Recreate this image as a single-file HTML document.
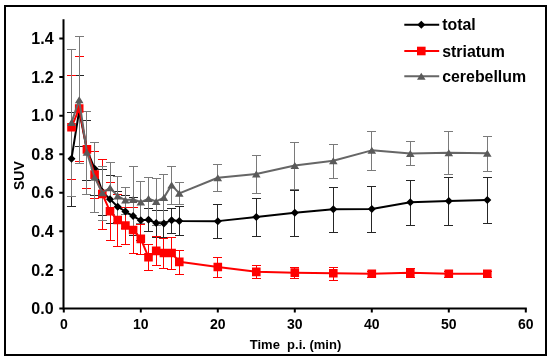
<!DOCTYPE html>
<html><head><meta charset="utf-8"><style>
html,body{margin:0;padding:0;background:#fff;}
body{width:550px;height:360px;position:relative;overflow:hidden;}
.frame{position:absolute;left:4px;top:5px;width:543px;height:351px;border:2px solid #000;box-sizing:border-box;}
svg{position:absolute;left:0;top:0;}
.wrap{position:absolute;left:0;top:0;width:550px;height:360px;filter:blur(0.4px);}
text{font-family:"Liberation Sans",sans-serif;font-weight:bold;fill:#000;}
.yl{font-size:16px;}
.xl{font-size:14px;}
.tt{font-size:13px;}
.tt2{font-size:14px;}
.lg{font-size:15.9px;}
</style></head><body>
<div class="wrap"><div class="frame"></div>
<svg width="550" height="360" viewBox="0 0 550 360">
<path d="M63.5 19.3V309.5M62.5 308.5H526.8" stroke="#000" stroke-width="2" fill="none"/><path d="M59.3 308.50H63.5M59.3 269.93H63.5M59.3 231.36H63.5M59.3 192.78H63.5M59.3 154.21H63.5M59.3 115.64H63.5M59.3 77.07H63.5M59.3 38.50H63.5M63.80 308.5V312.6M140.80 308.5V312.6M217.80 308.5V312.6M294.80 308.5V312.6M371.80 308.5V312.6M448.80 308.5V312.6M525.80 308.5V312.6" stroke="#000" stroke-width="2" fill="none"/>
<g stroke="#262626" stroke-width="1" fill="none" shape-rendering="crispEdges"><path d="M71.50 112.50V206.50M67.20 112.50H75.80M67.20 206.50H75.80"/><path d="M79.50 75.50V146.50M75.20 75.50H83.80M75.20 146.50H83.80"/><path d="M86.50 120.50V180.50M82.20 120.50H90.80M82.20 180.50H90.80"/><path d="M94.50 142.50V195.50M90.20 142.50H98.80M90.20 195.50H98.80"/><path d="M102.50 169.50V215.50M98.20 169.50H106.80M98.20 215.50H106.80"/><path d="M110.50 175.50V223.50M106.20 175.50H114.80M106.20 223.50H114.80"/><path d="M117.50 191.50V222.50M113.20 191.50H121.80M113.20 222.50H121.80"/><path d="M125.50 195.50V228.50M121.20 195.50H129.80M121.20 228.50H129.80"/><path d="M133.50 197.50V235.50M129.20 197.50H137.80M129.20 235.50H137.80"/><path d="M140.50 201.50V240.50M136.20 201.50H144.80M136.20 240.50H144.80"/><path d="M148.50 208.50V231.50M144.20 208.50H152.80M144.20 231.50H152.80"/><path d="M156.50 210.50V237.50M152.20 210.50H160.80M152.20 237.50H160.80"/><path d="M163.50 210.50V237.50M159.20 210.50H167.80M159.20 237.50H167.80"/><path d="M171.50 208.50V233.50M167.20 208.50H175.80M167.20 233.50H175.80"/><path d="M179.50 206.50V235.50M175.20 206.50H183.80M175.20 235.50H183.80"/><path d="M217.50 204.50V238.50M213.20 204.50H221.80M213.20 238.50H221.80"/><path d="M256.50 198.50V236.50M252.20 198.50H260.80M252.20 236.50H260.80"/><path d="M294.50 190.50V236.50M290.20 190.50H298.80M290.20 236.50H298.80"/><path d="M333.50 187.50V232.50M329.20 187.50H337.80M329.20 232.50H337.80"/><path d="M371.50 186.50V232.50M367.20 186.50H375.80M367.20 232.50H375.80"/><path d="M410.50 180.50V225.50M406.20 180.50H414.80M406.20 225.50H414.80"/><path d="M448.50 177.50V225.50M444.20 177.50H452.80M444.20 225.50H452.80"/><path d="M487.50 177.50V223.50M483.20 177.50H491.80M483.20 223.50H491.80"/></g><g stroke="#ff0000" stroke-width="1" fill="none" shape-rendering="crispEdges"><path d="M71.50 75.50V179.50M67.20 75.50H75.80M67.20 179.50H75.80"/><path d="M79.50 56.50V161.50M75.20 56.50H83.80M75.20 161.50H83.80"/><path d="M86.50 111.50V188.50M82.20 111.50H90.80M82.20 188.50H90.80"/><path d="M94.50 151.50V198.50M90.20 151.50H98.80M90.20 198.50H98.80"/><path d="M102.50 159.50V229.50M98.20 159.50H106.80M98.20 229.50H106.80"/><path d="M110.50 182.50V240.50M106.20 182.50H114.80M106.20 240.50H114.80"/><path d="M117.50 194.50V246.50M113.20 194.50H121.80M113.20 246.50H121.80"/><path d="M125.50 207.50V244.50M121.20 207.50H129.80M121.20 244.50H129.80"/><path d="M133.50 207.50V253.50M129.20 207.50H137.80M129.20 253.50H137.80"/><path d="M140.50 224.50V254.50M136.20 224.50H144.80M136.20 254.50H144.80"/><path d="M148.50 244.50V270.50M144.20 244.50H152.80M144.20 270.50H152.80"/><path d="M156.50 236.50V265.50M152.20 236.50H160.80M152.20 265.50H160.80"/><path d="M163.50 238.50V268.50M159.20 238.50H167.80M159.20 268.50H167.80"/><path d="M171.50 237.50V269.50M167.20 237.50H175.80M167.20 269.50H175.80"/><path d="M179.50 250.50V274.50M175.20 250.50H183.80M175.20 274.50H183.80"/><path d="M217.50 257.50V277.50M213.20 257.50H221.80M213.20 277.50H221.80"/><path d="M256.50 265.50V278.50M252.20 265.50H260.80M252.20 278.50H260.80"/><path d="M294.50 267.50V278.50M290.20 267.50H298.80M290.20 278.50H298.80"/><path d="M333.50 267.50V280.50M329.20 267.50H337.80M329.20 280.50H337.80"/><path d="M371.50 271.50V277.50M367.20 271.50H375.80M367.20 277.50H375.80"/><path d="M410.50 268.50V277.50M406.20 268.50H414.80M406.20 277.50H414.80"/><path d="M448.50 271.50V277.50M444.20 271.50H452.80M444.20 277.50H452.80"/><path d="M487.50 271.50V277.50M483.20 271.50H491.80M483.20 277.50H491.80"/></g><g stroke="#7a7a7a" stroke-width="1" fill="none" shape-rendering="crispEdges"><path d="M71.50 49.50V196.50M67.20 49.50H75.80M67.20 196.50H75.80"/><path d="M79.50 36.50V163.50M75.20 36.50H83.80M75.20 163.50H83.80"/><path d="M86.50 111.50V194.50M82.20 111.50H90.80M82.20 194.50H90.80"/><path d="M94.50 142.50V212.50M90.20 142.50H98.80M90.20 212.50H98.80"/><path d="M102.50 166.50V220.50M98.20 166.50H106.80M98.20 220.50H106.80"/><path d="M110.50 162.50V214.50M106.20 162.50H114.80M106.20 214.50H114.80"/><path d="M117.50 176.50V216.50M113.20 176.50H121.80M113.20 216.50H121.80"/><path d="M125.50 187.50V214.50M121.20 187.50H129.80M121.20 214.50H129.80"/><path d="M133.50 166.50V233.50M129.20 166.50H137.80M129.20 233.50H137.80"/><path d="M140.50 181.50V223.50M136.20 181.50H144.80M136.20 223.50H144.80"/><path d="M148.50 177.50V220.50M144.20 177.50H152.80M144.20 220.50H152.80"/><path d="M156.50 178.50V225.50M152.20 178.50H160.80M152.20 225.50H160.80"/><path d="M163.50 174.50V221.50M159.20 174.50H167.80M159.20 221.50H167.80"/><path d="M171.50 166.50V204.50M167.20 166.50H175.80M167.20 204.50H175.80"/><path d="M179.50 182.50V204.50M175.20 182.50H183.80M175.20 204.50H183.80"/><path d="M217.50 164.50V191.50M213.20 164.50H221.80M213.20 191.50H221.80"/><path d="M256.50 155.50V193.50M252.20 155.50H260.80M252.20 193.50H260.80"/><path d="M294.50 142.50V189.50M290.20 142.50H298.80M290.20 189.50H298.80"/><path d="M333.50 144.50V178.50M329.20 144.50H337.80M329.20 178.50H337.80"/><path d="M371.50 131.50V170.50M367.20 131.50H375.80M367.20 170.50H375.80"/><path d="M410.50 141.50V165.50M406.20 141.50H414.80M406.20 165.50H414.80"/><path d="M448.50 131.50V174.50M444.20 131.50H452.80M444.20 174.50H452.80"/><path d="M487.50 136.50V171.50M483.20 136.50H491.80M483.20 171.50H491.80"/></g><polyline points="71.50,158.65 79.20,110.63 86.90,149.97 94.60,168.68 102.30,191.82 110.00,199.15 117.70,206.67 125.40,211.49 133.10,216.12 140.80,220.36 148.50,219.78 156.20,223.06 163.90,223.45 171.60,220.17 179.30,220.94 217.80,221.13 256.30,217.08 294.80,212.84 333.30,209.37 371.80,208.98 410.30,202.23 448.80,201.08 487.30,199.92" fill="none" stroke="#000" stroke-width="2" stroke-linejoin="round"/><path d="M71.50 154.65L75.50 158.65L71.50 162.65L67.50 158.65ZM79.20 106.63L83.20 110.63L79.20 114.63L75.20 110.63ZM86.90 145.97L90.90 149.97L86.90 153.97L82.90 149.97ZM94.60 164.68L98.60 168.68L94.60 172.68L90.60 168.68ZM102.30 187.82L106.30 191.82L102.30 195.82L98.30 191.82ZM110.00 195.15L114.00 199.15L110.00 203.15L106.00 199.15ZM117.70 202.67L121.70 206.67L117.70 210.67L113.70 206.67ZM125.40 207.49L129.40 211.49L125.40 215.49L121.40 211.49ZM133.10 212.12L137.10 216.12L133.10 220.12L129.10 216.12ZM140.80 216.36L144.80 220.36L140.80 224.36L136.80 220.36ZM148.50 215.78L152.50 219.78L148.50 223.78L144.50 219.78ZM156.20 219.06L160.20 223.06L156.20 227.06L152.20 223.06ZM163.90 219.45L167.90 223.45L163.90 227.45L159.90 223.45ZM171.60 216.17L175.60 220.17L171.60 224.17L167.60 220.17ZM179.30 216.94L183.30 220.94L179.30 224.94L175.30 220.94ZM217.80 217.13L221.80 221.13L217.80 225.13L213.80 221.13ZM256.30 213.08L260.30 217.08L256.30 221.08L252.30 217.08ZM294.80 208.84L298.80 212.84L294.80 216.84L290.80 212.84ZM333.30 205.37L337.30 209.37L333.30 213.37L329.30 209.37ZM371.80 204.98L375.80 208.98L371.80 212.98L367.80 208.98ZM410.30 198.23L414.30 202.23L410.30 206.23L406.30 202.23ZM448.80 197.08L452.80 201.08L448.80 205.08L444.80 201.08ZM487.30 195.92L491.30 199.92L487.30 203.92L483.30 199.92Z" fill="#000"/><polyline points="71.50,127.21 79.20,108.50 86.90,149.39 94.60,174.66 102.30,193.94 110.00,211.30 117.70,219.98 125.40,225.57 133.10,230.01 140.80,238.88 148.50,257.20 156.20,250.83 163.90,252.96 171.60,252.96 179.30,261.83 217.80,267.04 256.30,271.86 294.80,272.63 333.30,273.21 371.80,273.79 410.30,272.63 448.80,273.79 487.30,273.79" fill="none" stroke="#ff0000" stroke-width="2" stroke-linejoin="round"/><path d="M67.20 122.91h8.60v8.60h-8.60ZM74.90 104.20h8.60v8.60h-8.60ZM82.60 145.09h8.60v8.60h-8.60ZM90.30 170.36h8.60v8.60h-8.60ZM98.00 189.64h8.60v8.60h-8.60ZM105.70 207.00h8.60v8.60h-8.60ZM113.40 215.68h8.60v8.60h-8.60ZM121.10 221.27h8.60v8.60h-8.60ZM128.80 225.71h8.60v8.60h-8.60ZM136.50 234.58h8.60v8.60h-8.60ZM144.20 252.90h8.60v8.60h-8.60ZM151.90 246.53h8.60v8.60h-8.60ZM159.60 248.66h8.60v8.60h-8.60ZM167.30 248.66h8.60v8.60h-8.60ZM175.00 257.53h8.60v8.60h-8.60ZM213.50 262.74h8.60v8.60h-8.60ZM252.00 267.56h8.60v8.60h-8.60ZM290.50 268.33h8.60v8.60h-8.60ZM329.00 268.91h8.60v8.60h-8.60ZM367.50 269.49h8.60v8.60h-8.60ZM406.00 268.33h8.60v8.60h-8.60ZM444.50 269.49h8.60v8.60h-8.60ZM483.00 269.49h8.60v8.60h-8.60Z" fill="#ff0000"/><polyline points="71.50,122.58 79.20,99.83 86.90,152.28 94.60,177.36 102.30,192.78 110.00,187.77 117.70,196.06 125.40,200.11 133.10,199.53 140.80,202.04 148.50,198.57 156.20,201.46 163.90,197.61 171.60,185.07 179.30,193.36 217.80,177.74 256.30,174.08 294.80,165.59 333.30,160.77 371.80,150.35 410.30,153.44 448.80,152.67 487.30,153.25" fill="none" stroke="#666666" stroke-width="2" stroke-linejoin="round"/><path d="M71.50 119.08L75.80 126.08L67.20 126.08ZM79.20 96.33L83.50 103.33L74.90 103.33ZM86.90 148.78L91.20 155.78L82.60 155.78ZM94.60 173.86L98.90 180.86L90.30 180.86ZM102.30 189.28L106.60 196.28L98.00 196.28ZM110.00 184.27L114.30 191.27L105.70 191.27ZM117.70 192.56L122.00 199.56L113.40 199.56ZM125.40 196.61L129.70 203.61L121.10 203.61ZM133.10 196.03L137.40 203.03L128.80 203.03ZM140.80 198.54L145.10 205.54L136.50 205.54ZM148.50 195.07L152.80 202.07L144.20 202.07ZM156.20 197.96L160.50 204.96L151.90 204.96ZM163.90 194.11L168.20 201.11L159.60 201.11ZM171.60 181.57L175.90 188.57L167.30 188.57ZM179.30 189.86L183.60 196.86L175.00 196.86ZM217.80 174.24L222.10 181.24L213.50 181.24ZM256.30 170.58L260.60 177.58L252.00 177.58ZM294.80 162.09L299.10 169.09L290.50 169.09ZM333.30 157.27L337.60 164.27L329.00 164.27ZM371.80 146.85L376.10 153.85L367.50 153.85ZM410.30 149.94L414.60 156.94L406.00 156.94ZM448.80 149.17L453.10 156.17L444.50 156.17ZM487.30 149.75L491.60 156.75L483.00 156.75Z" fill="#5a5a5a"/>
<text x="53.6" y="314.20" text-anchor="end" class="yl">0.0</text><text x="53.6" y="275.63" text-anchor="end" class="yl">0.2</text><text x="53.6" y="237.06" text-anchor="end" class="yl">0.4</text><text x="53.6" y="198.48" text-anchor="end" class="yl">0.6</text><text x="53.6" y="159.91" text-anchor="end" class="yl">0.8</text><text x="53.6" y="121.34" text-anchor="end" class="yl">1.0</text><text x="53.6" y="82.77" text-anchor="end" class="yl">1.2</text><text x="53.6" y="44.20" text-anchor="end" class="yl">1.4</text><text x="63.80" y="329.3" text-anchor="middle" class="xl">0</text><text x="140.80" y="329.3" text-anchor="middle" class="xl">10</text><text x="217.80" y="329.3" text-anchor="middle" class="xl">20</text><text x="294.80" y="329.3" text-anchor="middle" class="xl">30</text><text x="371.80" y="329.3" text-anchor="middle" class="xl">40</text><text x="448.80" y="329.3" text-anchor="middle" class="xl">50</text><text x="525.80" y="329.3" text-anchor="middle" class="xl">60</text><text x="295.5" y="349" text-anchor="middle" class="tt" xml:space="preserve">Time  p.i. (min)</text><text transform="translate(23.7 175.6) rotate(-90)" text-anchor="middle" class="tt2">SUV</text>
<path d="M404.3 24.8H439.2" stroke="#000" stroke-width="2"/><path d="M421.30 20.80L425.30 24.80L421.30 28.80L417.30 24.80Z" fill="#000"/><text x="442.2" y="30.30" class="lg">total</text><path d="M404.3 51.0H439.2" stroke="#ff0000" stroke-width="2"/><path d="M417.00 46.70h8.60v8.60h-8.60Z" fill="#ff0000"/><text x="442.2" y="56.50" class="lg">striatum</text><path d="M404.3 76.2H439.2" stroke="#666666" stroke-width="2"/><path d="M421.30 72.70L425.60 79.70L417.00 79.70Z" fill="#5a5a5a"/><text x="442.2" y="81.70" class="lg">cerebellum</text>
</svg></div>
</body></html>
